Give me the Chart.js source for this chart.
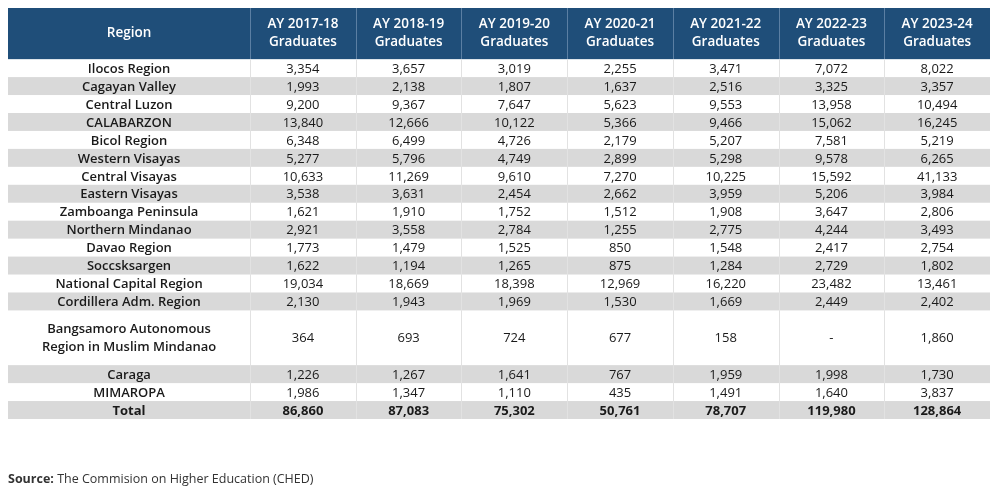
<!DOCTYPE html>
<html>
<head>
<meta charset="utf-8">
<script src="https://cdn.jsdelivr.net/npm/chart.js@4"></script>
<style>
  html, body { margin: 0; padding: 0; background: #fff; }
  #wrap { width: 998px; height: 492px; }
</style>
</head>
<body>
<div id="wrap"><canvas id="tbl" width="998" height="492"></canvas></div>
<script>
const regions = ['Ilocos Region', 'Cagayan Valley', 'Central Luzon', 'CALABARZON', 'Bicol Region',
  'Western Visayas', 'Central Visayas', 'Eastern Visayas', 'Zamboanga Peninsula', 'Northern Mindanao',
  'Davao Region', 'Soccsksargen', 'National Capital Region', 'Cordillera Adm. Region',
  'Bangsamoro Autonomous\nRegion in Muslim Mindanao', 'Caraga', 'MIMAROPA'];
const years = ['AY 2017-18', 'AY 2018-19', 'AY 2019-20', 'AY 2020-21', 'AY 2021-22', 'AY 2022-23', 'AY 2023-24'];

const ay1718 = [3354, 1993, 9200, 13840, 6348, 5277, 10633, 3538, 1621, 2921, 1773, 1622, 19034, 2130, 364, 1226, 1986];
const ay1819 = [3657, 2138, 9367, 12666, 6499, 5796, 11269, 3631, 1910, 3558, 1479, 1194, 18669, 1943, 693, 1267, 1347];
const ay1920 = [3019, 1807, 7647, 10122, 4726, 4749, 9610, 2454, 1752, 2784, 1525, 1265, 18398, 1969, 724, 1641, 1110];
const ay2021 = [2255, 1637, 5623, 5366, 2179, 2899, 7270, 2662, 1512, 1255, 850, 875, 12969, 1530, 677, 767, 435];
const ay2122 = [3471, 2516, 9553, 9466, 5207, 5298, 10225, 3959, 1908, 2775, 1548, 1284, 16220, 1669, 158, 1959, 1491];
const ay2223 = [7072, 3325, 13958, 15062, 7581, 9578, 15592, 5206, 3647, 4244, 2417, 2729, 23482, 2449, null, 1998, 1640];
const ay2324 = [8022, 3357, 10494, 16245, 5219, 6265, 41133, 3984, 2806, 3493, 2754, 1802, 13461, 2402, 1860, 1730, 3837];
const totals = [86860, 87083, 75302, 50761, 78707, 119980, 128864];
const series = [ay1718, ay1819, ay1920, ay2021, ay2122, ay2223, ay2324];

const FONT = '"Open Sans", sans-serif';
const fmt = v => v == null ? '-' : v.toLocaleString('en-US');

// row heights in y units (header, regions, total)
const headerUnits = 2.85;
const rowUnits = regions.map(r => r.includes('\n') ? 3.05 : 1);
const yMax = headerUnits + rowUnits.reduce((a, b) => a + b, 0) + 1;
const regionColUnits = 2.29;
const xMax = regionColUnits + years.length;

const tablePlugin = {
  id: 'tablePlugin',
  afterDraw(chart) {
    const { ctx, scales: { x, y } } = chart;
    const colEdges = [0, regionColUnits];
    years.forEach((_, i) => colEdges.push(regionColUnits + i + 1));
    const px = colEdges.map(v => x.getPixelForValue(v));
    const left = px[0], right = px[px.length - 1];
    ctx.save();
    ctx.textAlign = 'center';
    ctx.textBaseline = 'middle';

    // header
    const hTop = y.getPixelForValue(0), hBot = y.getPixelForValue(headerUnits);
    ctx.fillStyle = '#1f4e79';
    ctx.fillRect(left, hTop, right - left, hBot - hTop);
    ctx.fillStyle = '#fff';
    ctx.font = '600 13.5px ' + FONT;
    ctx.fillText('Region', (px[0] + px[1]) / 2, (hTop + hBot) / 2);
    years.forEach((yr, i) => {
      const cx = (px[i + 1] + px[i + 2]) / 2;
      ctx.fillText(yr, cx, (hTop + hBot) / 2 - 9);
      ctx.fillText('Graduates', cx, (hTop + hBot) / 2 + 9);
    });
    ctx.strokeStyle = '#5b7fa3';
    ctx.lineWidth = 1;
    px.slice(1, -1).forEach(p => {
      ctx.beginPath(); ctx.moveTo(Math.round(p) + 0.5, hTop); ctx.lineTo(Math.round(p) + 0.5, hBot); ctx.stroke();
    });

    // body rows
    let u = headerUnits;
    const rows = regions.map((r, i) => ({ label: r, vals: series.map(s => s[i]), units: rowUnits[i], bold: false }));
    rows.push({ label: 'Total', vals: totals, units: 1, bold: true });
    rows.forEach((row, i) => {
      const t = y.getPixelForValue(u), b = y.getPixelForValue(u + row.units);
      u += row.units;
      if (i % 2 === 1) {
        ctx.fillStyle = '#d9d9d9';
        ctx.fillRect(left, t, right - left, b - t);
      }
      ctx.strokeStyle = '#e2e2e2';
      px.slice(1, -1).forEach(p => {
        ctx.beginPath(); ctx.moveTo(Math.round(p) + 0.5, t); ctx.lineTo(Math.round(p) + 0.5, b); ctx.stroke();
      });
      const cy = (t + b) / 2 + 1;
      ctx.fillStyle = '#1a1a1a';
      ctx.font = (row.bold ? '700 ' : '600 ') + '13px ' + FONT;
      const lines = row.label.split('\n');
      lines.forEach((ln, k) => ctx.fillText(ln, (px[0] + px[1]) / 2, cy + (k - (lines.length - 1) / 2) * 18));
      ctx.font = (row.bold ? '700 ' : '400 ') + '13px ' + FONT;
      row.vals.forEach((v, j) => ctx.fillText(fmt(v), (px[j + 1] + px[j + 2]) / 2, cy));
    });

    // source
    ctx.textAlign = 'left';
    ctx.fillStyle = '#333';
    ctx.font = '700 12.5px ' + FONT;
    const srcY = 479;
    ctx.fillText('Source:', 8, srcY);
    const w = ctx.measureText('Source: ').width;
    ctx.font = '400 12.5px ' + FONT;
    ctx.fillText('The Commision on Higher Education (CHED)', 8 + w, srcY);
    ctx.restore();
  }
};

new Chart(document.getElementById('tbl'), {
  type: 'scatter',
  data: { datasets: [{ data: [], pointRadius: 0 }] },
  options: {
    responsive: false,
    animation: false,
    layout: { padding: { left: 8, right: 8, top: 8, bottom: 73 } },
    scales: {
      x: { type: 'linear', min: 0, max: xMax, display: false },
      y: { type: 'linear', min: 0, max: yMax, reverse: true, display: false }
    },
    plugins: { legend: { display: false }, tooltip: { enabled: false } }
  },
  plugins: [tablePlugin]
});
</script>
</body>
</html>
